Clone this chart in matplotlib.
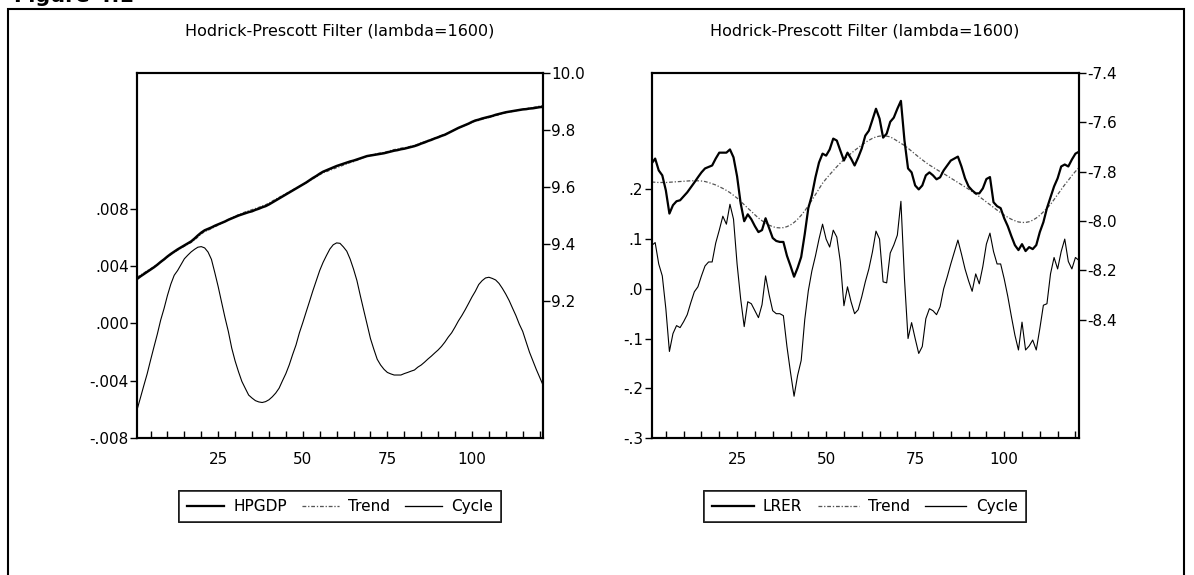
import matplotlib
matplotlib.use("Agg")
import matplotlib.pyplot as plt
from matplotlib.lines import Line2D
from matplotlib.patches import Rectangle
from matplotlib.ticker import MultipleLocator, FixedLocator

plt.rcParams['font.family'] = ['DejaVu Sans']

# ---------------- data ----------------
obs = list(range(1, 122))

hpgdp = [9.276, 9.285, 9.293, 9.301, 9.309, 9.317, 9.326, 9.336, 9.345, 9.355,
         9.364, 9.372, 9.380, 9.387, 9.394, 9.401, 9.408, 9.418, 9.429, 9.439,
         9.447, 9.452, 9.457, 9.463, 9.468, 9.473, 9.478, 9.484, 9.489, 9.494,
         9.499, 9.503, 9.507, 9.511, 9.514, 9.519, 9.523, 9.528, 9.532, 9.538,
         9.545, 9.552, 9.559, 9.566, 9.573, 9.580, 9.587, 9.594, 9.601, 9.608,
         9.615, 9.623, 9.631, 9.638, 9.646, 9.653, 9.658, 9.663, 9.668, 9.673,
         9.677, 9.681, 9.685, 9.689, 9.692, 9.696, 9.700, 9.704, 9.708, 9.710,
         9.712, 9.714, 9.716, 9.718, 9.721, 9.724, 9.727, 9.729, 9.732, 9.734,
         9.737, 9.740, 9.743, 9.747, 9.752, 9.756, 9.761, 9.765, 9.770, 9.774,
         9.779, 9.783, 9.789, 9.795, 9.801, 9.807, 9.812, 9.817, 9.822, 9.828,
         9.833, 9.836, 9.840, 9.843, 9.846, 9.849, 9.853, 9.856, 9.859, 9.862,
         9.864, 9.866, 9.868, 9.870, 9.872, 9.873, 9.875, 9.876, 9.878, 9.880,
         9.881]

trend_gdp = [9.282, 9.290, 9.297, 9.305, 9.312, 9.319, 9.327, 9.335, 9.344, 9.353,
             9.361, 9.369, 9.377, 9.384, 9.391, 9.398, 9.404, 9.413, 9.423, 9.434,
             9.442, 9.447, 9.453, 9.459, 9.465, 9.472, 9.478, 9.485, 9.491, 9.497,
             9.502, 9.507, 9.512, 9.516, 9.520, 9.524, 9.528, 9.533, 9.537, 9.543,
             9.550, 9.557, 9.563, 9.570, 9.576, 9.583, 9.589, 9.596, 9.602, 9.608,
             9.614, 9.621, 9.628, 9.635, 9.642, 9.649, 9.653, 9.658, 9.662, 9.667,
             9.671, 9.676, 9.680, 9.685, 9.688, 9.693, 9.698, 9.703, 9.708, 9.711,
             9.714, 9.717, 9.719, 9.721, 9.724, 9.728, 9.731, 9.733, 9.736, 9.737,
             9.740, 9.743, 9.746, 9.750, 9.755, 9.759, 9.763, 9.767, 9.772, 9.776,
             9.781, 9.784, 9.790, 9.795, 9.801, 9.807, 9.811, 9.816, 9.821, 9.826,
             9.831, 9.833, 9.837, 9.840, 9.843, 9.846, 9.850, 9.853, 9.857, 9.860,
             9.862, 9.865, 9.867, 9.870, 9.873, 9.874, 9.877, 9.879, 9.881, 9.884,
             9.885]

cycle_gdp = [-0.00604, -0.00520, -0.00435, -0.00352, -0.00257, -0.00165, -0.00075, 0.00024, 0.00105, 0.00196,
             0.00275, 0.00337, 0.00370, 0.00411, 0.00452, 0.00477, 0.00500, 0.00518, 0.00533, 0.00537,
             0.00528, 0.00499, 0.00448, 0.00355, 0.00257, 0.00149, 0.00042, -0.00056, -0.00172, -0.00262,
             -0.00337, -0.00405, -0.00453, -0.00500, -0.00521, -0.00539, -0.00548, -0.00552, -0.00546, -0.00533,
             -0.00512, -0.00486, -0.00452, -0.00400, -0.00350, -0.00289, -0.00217, -0.00150, -0.00065, 0.00006,
             0.00081, 0.00155, 0.00230, 0.00300, 0.00370, 0.00427, 0.00475, 0.00520, 0.00550, 0.00563,
             0.00560, 0.00535, 0.00505, 0.00450, 0.00380, 0.00300, 0.00195, 0.00094, -0.00005, -0.00105,
             -0.00180, -0.00250, -0.00290, -0.00320, -0.00342, -0.00352, -0.00360, -0.00360, -0.00360, -0.00350,
             -0.00342, -0.00333, -0.00325, -0.00305, -0.00290, -0.00270, -0.00248, -0.00228, -0.00206, -0.00185,
             -0.00160, -0.00130, -0.00095, -0.00065, -0.00025, 0.00018, 0.00055, 0.00096, 0.00140, 0.00185,
             0.00225, 0.00272, 0.00299, 0.00318, 0.00323, 0.00315, 0.00304, 0.00280, 0.00245, 0.00205,
             0.00160, 0.00107, 0.00055, -0.00005, -0.00055, -0.00128, -0.00200, -0.00260, -0.00320, -0.00375,
             -0.00430]

lrer = [-7.767, -7.747, -7.795, -7.815, -7.876, -7.970, -7.936, -7.920, -7.916, -7.900,
        -7.884, -7.864, -7.844, -7.823, -7.803, -7.787, -7.781, -7.775, -7.747, -7.723,
        -7.723, -7.723, -7.710, -7.742, -7.819, -7.928, -8.001, -7.973, -7.993, -8.021,
        -8.045, -8.037, -7.989, -8.029, -8.069, -8.081, -8.085, -8.085, -8.141, -8.182,
        -8.226, -8.190, -8.146, -8.053, -7.948, -7.896, -7.823, -7.763, -7.727, -7.735,
        -7.710, -7.666, -7.674, -7.715, -7.755, -7.723, -7.747, -7.775, -7.743, -7.706,
        -7.654, -7.634, -7.590, -7.545, -7.585, -7.662, -7.646, -7.598, -7.581, -7.545,
        -7.513, -7.674, -7.787, -7.803, -7.856, -7.872, -7.856, -7.815, -7.803, -7.815,
        -7.831, -7.823, -7.795, -7.775, -7.755, -7.747, -7.739, -7.779, -7.827, -7.860,
        -7.876, -7.888, -7.888, -7.868, -7.830, -7.822, -7.924, -7.940, -7.948, -7.989,
        -8.021, -8.061, -8.098, -8.118, -8.094, -8.122, -8.106, -8.114, -8.098, -8.045,
        -8.005, -7.948, -7.904, -7.860, -7.827, -7.779, -7.771, -7.779, -7.751, -7.727,
        -7.719]

trend_lrer = [-7.842, -7.843, -7.844, -7.844, -7.844, -7.843, -7.842, -7.841, -7.840, -7.839,
              -7.838, -7.837, -7.837, -7.837, -7.838, -7.840, -7.844, -7.849, -7.854, -7.861,
              -7.868, -7.876, -7.885, -7.896, -7.907, -7.921, -7.934, -7.948, -7.961, -7.975,
              -7.988, -7.999, -8.009, -8.017, -8.023, -8.027, -8.028, -8.027, -8.023, -8.016,
              -8.006, -7.993, -7.977, -7.959, -7.938, -7.916, -7.893, -7.870, -7.847, -7.829,
              -7.812, -7.796, -7.780, -7.765, -7.751, -7.738, -7.726, -7.714, -7.703, -7.692,
              -7.682, -7.673, -7.665, -7.659, -7.656, -7.655, -7.656, -7.659, -7.667, -7.676,
              -7.685, -7.694, -7.705, -7.717, -7.729, -7.741, -7.752, -7.763, -7.773, -7.782,
              -7.791, -7.800, -7.808, -7.817, -7.826, -7.835, -7.844, -7.853, -7.862, -7.871,
              -7.881, -7.891, -7.901, -7.912, -7.923, -7.934, -7.945, -7.956, -7.966, -7.976,
              -7.985, -7.993, -7.999, -8.004, -8.006, -8.006, -8.003, -7.997, -7.988, -7.977,
              -7.963, -7.948, -7.933, -7.913, -7.893, -7.873, -7.853, -7.835, -7.816, -7.799,
              -7.784]

cycle_lrer = [0.087, 0.093, 0.050, 0.026, -0.040, -0.126, -0.090, -0.074, -0.078, -0.066,
              -0.052, -0.028, -0.006, 0.004, 0.026, 0.046, 0.054, 0.054, 0.092, 0.118,
              0.146, 0.130, 0.170, 0.140, 0.050, -0.020, -0.076, -0.026, -0.030, -0.044,
              -0.058, -0.032, 0.026, -0.012, -0.044, -0.050, -0.050, -0.054, -0.116, -0.168,
              -0.216, -0.174, -0.144, -0.062, -0.004, 0.036, 0.066, 0.100, 0.130, 0.100,
              0.084, 0.118, 0.104, 0.054, -0.034, 0.004, -0.026, -0.050, -0.042, -0.016,
              0.014, 0.040, 0.074, 0.116, 0.100, 0.014, 0.012, 0.072, 0.088, 0.108,
              0.176, 0.020, -0.100, -0.068, -0.100, -0.130, -0.116, -0.060, -0.040, -0.044,
              -0.052, -0.036, 0.000, 0.024, 0.050, 0.074, 0.098, 0.070, 0.040, 0.016,
              -0.005, 0.030, 0.010, 0.045, 0.090, 0.112, 0.075, 0.050, 0.050, 0.020,
              -0.015, -0.055, -0.093, -0.123, -0.067, -0.123, -0.115, -0.103, -0.123, -0.080,
              -0.033, -0.030, 0.030, 0.063, 0.040, 0.075, 0.100, 0.055, 0.040, 0.063,
              0.057]

title_text = "Hodrick-Prescott Filter (lambda=1600)"
x_ticks = [25, 50, 75, 100]
gdp_left_ticks = [-0.008, -0.004, 0.000, 0.004, 0.008]
gdp_left_labels = ['-.008', '-.004', '.000', '.004', '.008']
gdp_right_ticks = [9.2, 9.4, 9.6, 9.8, 10.0]
gdp_right_labels = ['9.2', '9.4', '9.6', '9.8', '10.0']
lrer_left_ticks = [-0.3, -0.2, -0.1, 0.0, 0.1, 0.2]
lrer_left_labels = ['-.3', '-.2', '-.1', '.0', '.1', '.2']
lrer_right_ticks = [-8.4, -8.2, -8.0, -7.8, -7.6, -7.4]
lrer_right_labels = ['-8.4', '-8.2', '-8.0', '-7.8', '-7.6', '-7.4']

# ---------------- figure ----------------
W, H = 1194, 575
fig = plt.figure(figsize=(W / 100, H / 100), dpi=100)
fig.patch.set_facecolor('white')

def fx(px):
    return px / W

def fy(py):
    return 1 - py / H

TOP, BOT = 73, 438
ax1 = fig.add_axes([fx(137), fy(BOT), fx(543) - fx(137), (BOT - TOP) / H])
ax2 = fig.add_axes([fx(651.6), fy(BOT), fx(1079) - fx(651.6), (BOT - TOP) / H])
ax1r = ax1.twinx()
ax2r = ax2.twinx()

trend_ls = (0, (3, 1.5, 1, 1.5))
trend_col = '#555555'
TS = 11

# left panel
ax1.plot(obs, cycle_gdp, color='black', lw=0.8)
ax1r.plot(obs, trend_gdp, color=trend_col, lw=0.8, ls=trend_ls)
ax1r.plot(obs, hpgdp, color='black', lw=1.8)
ax1.set_ylim(-0.008, 0.0175)
ax1r.set_ylim(8.717, 10.0)
ax1.yaxis.set_major_locator(FixedLocator(gdp_left_ticks))
ax1.set_yticklabels(gdp_left_labels)
ax1r.yaxis.set_major_locator(FixedLocator(gdp_right_ticks))
ax1r.set_yticklabels(gdp_right_labels)

# right panel
ax2.plot(obs, cycle_lrer, color='black', lw=0.8)
ax2r.plot(obs, trend_lrer, color=trend_col, lw=0.9, ls=trend_ls)
ax2r.plot(obs, lrer, color='black', lw=1.6)
ax2.set_ylim(-0.3, 0.434)
ax2r.set_ylim(-8.88, -7.4)
ax2.yaxis.set_major_locator(FixedLocator(lrer_left_ticks))
ax2.set_yticklabels(lrer_left_labels)
ax2r.yaxis.set_major_locator(FixedLocator(lrer_right_ticks))
ax2r.set_yticklabels(lrer_right_labels)

for a in (ax1, ax2):
    a.set_xlim(1, 121)
    a.xaxis.set_major_locator(FixedLocator(x_ticks))
    a.xaxis.set_minor_locator(MultipleLocator(5))
    a.tick_params(axis='x', which='both', direction='in', length=5, width=1,
                  labelsize=TS, pad=10, top=False)
    a.tick_params(axis='y', which='major', direction='out', length=5, width=1,
                  labelsize=TS, pad=1)
for a in (ax1r, ax2r):
    a.tick_params(axis='y', which='major', direction='out', length=5, width=1,
                  labelsize=TS, pad=1)
for a in (ax1, ax2, ax1r, ax2r):
    for s in a.spines.values():
        s.set_linewidth(1.5)
        s.set_color('black')

# titles
fig.text(fx(340), fy(23), title_text, ha='center', va='top', fontsize=11.5)
fig.text(fx(865), fy(23), title_text, ha='center', va='top', fontsize=11.5)

# legends
def handles(first):
    return [Line2D([], [], color='black', lw=1.6),
            Line2D([], [], color=trend_col, lw=0.9, ls=trend_ls),
            Line2D([], [], color='black', lw=0.9)], [first, 'Trend', 'Cycle']

for cx, name, hl in ((340, 'HPGDP', 2.4), (865, 'LRER', 2.7)):
    h, l = handles(name)
    leg = fig.legend(h, l, loc='center', bbox_to_anchor=(fx(cx), fy(506.5)), ncol=3,
                     frameon=True, fancybox=False, edgecolor='black', fontsize=11,
                     handlelength=hl, handletextpad=0.6, columnspacing=1.0,
                     borderpad=0.55, borderaxespad=0)
    leg.get_frame().set_linewidth(1.2)
    fig.add_artist(leg)

# outer frame and cut-off heading (as in the scanned page)
fig.add_artist(Rectangle((fx(8), -0.1), fx(1184) - fx(8), fy(9) + 0.1,
                         transform=fig.transFigure, fill=False, lw=1.5,
                         edgecolor='black', clip_on=False))
fig.text(fx(14), fy(2), 'Figure 4.1', fontsize=15, fontweight='bold',
         ha='left', va='baseline')

fig.savefig('out.png', dpi=100, facecolor='white')
